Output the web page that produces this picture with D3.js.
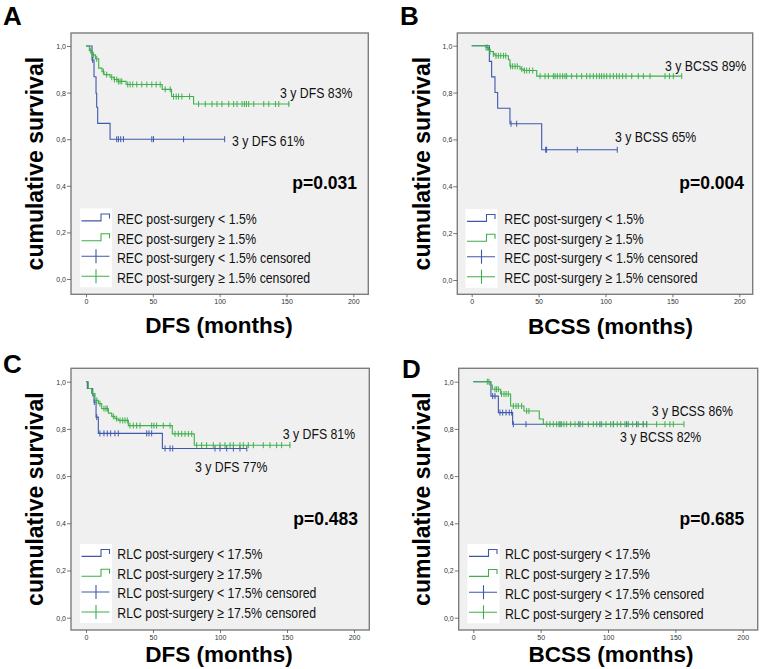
<!DOCTYPE html>
<html><head><meta charset="utf-8">
<script src="https://cdn.jsdelivr.net/npm/d3@7"></script>
<style>body{margin:0;background:#fff}svg{display:block}</style>
</head><body>
<svg id="chart" width="760" height="669"></svg>
<script>
// ---------------- DATA ----------------
const panelLetters = ["A", "B", "C", "D"];
const xTickValues = [0, 50, 100, 150, 200];
const yTickValues = [0, 0.2, 0.4, 0.6, 0.8, 1.0];
const yTickLabels = ["0,0", "0,2", "0,4", "0,6", "0,8", "1,0"];
const xTitles = ["DFS (months)", "BCSS (months)", "DFS (months)", "BCSS (months)"];
const yTitle = "cumulative survival";
const pValues = ["p=0.031", "p=0.004", "p=0.483", "p=0.685"];
const blueLabels = ["3 y DFS 61%", "3 y BCSS 65%", "3 y DFS 77%", "3 y BCSS 82%"];
const greenLabels = ["3 y DFS 83%", "3 y BCSS 89%", "3 y DFS 81%", "3 y BCSS 86%"];
const legendREC = ["REC post-surgery < 1.5%", "REC post-surgery \u2265 1.5%", "REC post-surgery < 1.5% censored", "REC post-surgery \u2265 1.5% censored"];
const legendRLC = ["RLC post-surgery < 17.5%", "RLC post-surgery \u2265 17.5%", "RLC post-surgery < 17.5% censored", "RLC post-surgery \u2265 17.5% censored"];

// Panel A  (steps: [time, survival after step])
const aBlueSteps = [[0,1],[4.5,0.94],[6,0.868],[7.5,0.797],[8,0.737],[8.75,0.668],[18,0.6]];
const aBlueEnd = 104;
const aBlueCensor = [5, 23, 24.25, 26, 28, 49.25, 50.5, 73, 103.75];
const aGreenSteps = [[0,1],[2.5,0.98],[4.5,0.962],[7,0.945],[9.5,0.905],[12,0.89],[13.5,0.877],[18,0.866],[21,0.856],[24,0.848],[30,0.835],[57,0.814],[64,0.783],[80.5,0.751]];
const aGreenEnd = 152.5;
const aGreenCensor = [3.5,5.5,8,13,15.5,19.25,21.25,23,24.25,25.5,26.75,31.25,33,35,38,41.75,45.5,49.25,52.5,55.5,59.25,63,65.5,67.5,69.25,71.75,77.5,84.25,89.25,94.25,98,101.75,106.75,110.5,113,116.75,118.5,120,121.75,125.5,133,136.75,141.75,144.25,151.75];

// Panel B
const bBlueSteps = [[0,1],[13.2,0.933],[14.9,0.867],[17.4,0.8],[19.4,0.733],[28.6,0.667],[52.3,0.556]];
const bBlueEnd = 108.8;
const bBlueCensor = [29.4, 33.6, 55.3, 56, 78.9, 108.8];
const bGreenSteps = [[0,1],[10.7,0.992],[12.5,0.982],[13.7,0.975],[16.2,0.965],[17.4,0.957],[27.4,0.94],[28.6,0.912],[36.1,0.9],[38.6,0.894],[48.6,0.87]];
const bGreenEnd = 157;
const bGreenCensor = [10.7,11.7,13.7,16.2,18.2,19.9,21.7,23.7,25.4,29.1,30.6,32.4,34.1,37.4,39.4,41.1,43.1,45.6,51.1,54.8,57.3,61,62.3,64,66,68,69.7,71,74.7,78.5,82.2,85.9,88.4,90.9,93.4,95.4,97.1,98.9,100.9,103.4,105.9,108.3,110.3,112.8,115.3,119.6,124.5,128.3,133.3,144.5,147.8,150.7,157];

// Panel C
const cBlueSteps = [[0,1],[1,0.971],[5,0.943],[6,0.914],[7.5,0.85],[9.2,0.781],[57,0.717]];
const cBlueEnd = 120;
const cBlueCensor = [6.2,8,10.4,13.4,15.9,18.4,21.6,24.1,45.3,47,49,59,62.7,64.7,96.3,100,105,110,114.9,120];
const cGreenSteps = [[0,1],[1.74,0.971],[4.2,0.95],[6.7,0.921],[9.2,0.907],[11.7,0.886],[16.7,0.867],[19.2,0.853],[21.6,0.843],[24.1,0.836],[31.6,0.814],[64.4,0.779],[80.8,0.731]];
const cGreenEnd = 152.7;
const cGreenCensor = [5,8,10.4,13.4,14.9,15.9,20.4,22.9,25.4,27.4,29.1,30.8,32.8,35.3,37.8,40.3,49,50.7,52.7,57.7,62.7,66.4,68.9,71.4,73.9,76.4,78.9,82.6,86.3,90,95,100,103.7,107.5,110,114.9,117.4,121.1,124.9,132.3,137.3,142.3,146,152.2];

// Panel D
const dBlueSteps = [[0,1],[13.1,0.939],[18.6,0.869],[29.2,0.82]];
const dBlueEnd = 128.7;
const dBlueCensor = [14.4,16.1,19.8,21.8,24.3,26.7,28.5,29.7,39.1,64.4,79.2,94,104,113.9,121.3,126.2,128.7];
const dGreenSteps = [[0,1],[12.4,0.986],[14.1,0.968],[20.3,0.948],[27.7,0.897],[37.6,0.876],[49,0.842],[52,0.82]];
const dGreenEnd = 156.4;
const dGreenCensor = [10.4,11.6,16.1,17.3,18.6,21,22.8,24.3,26,29.7,31.7,33.4,35.9,39.6,41.3,54.5,56.9,59.4,61.9,63.6,65.6,67.3,69.3,72.3,75.5,78,81.2,85.4,89.1,91.6,95.3,98.5,102,104,106.9,109.4,112.6,115.1,118.3,122.5,126.2,128.7,136.1,142.3,146,148.5,156.4];

const panelData = [
  {blue:{steps:aBlueSteps,end:aBlueEnd,censor:aBlueCensor}, green:{steps:aGreenSteps,end:aGreenEnd,censor:aGreenCensor}, legend:legendREC},
  {blue:{steps:bBlueSteps,end:bBlueEnd,censor:bBlueCensor}, green:{steps:bGreenSteps,end:bGreenEnd,censor:bGreenCensor}, legend:legendREC},
  {blue:{steps:cBlueSteps,end:cBlueEnd,censor:cBlueCensor}, green:{steps:cGreenSteps,end:cGreenEnd,censor:cGreenCensor}, legend:legendRLC},
  {blue:{steps:dBlueSteps,end:dBlueEnd,censor:dBlueCensor}, green:{steps:dGreenSteps,end:dGreenEnd,censor:dGreenCensor}, legend:legendRLC}
];

// ---------------- LAYOUT ----------------
const layout = [
 {frame:[71,33,297.3,261.3], x:[86,353.3], y:[279,46], letter:[3,25], ylab:43.3, xlab:[219,333], blueLab:[232,145.6], greenLab:[280,98.3], p:[357,189], legX:80, legText:117, legRows:[218.5,238.3,257.3,277.3]},
 {frame:[457.3,33,295.4,261.3], x:[471.7,739.3], y:[280,45.7], letter:[400,25], ylab:430, xlab:[610.5,334], blueLab:[615,142.3], greenLab:[665,70.6], p:[744,189], legX:465.5, legText:504.3, legRows:[219,238.8,257.8,277.8]},
 {frame:[71,368.3,298.3,261.7], x:[86,354], y:[617.7,381.7], letter:[3,373], ylab:43.3, xlab:[219,661.7], blueLab:[195,472.3], greenLab:[282.7,438.9], p:[358,524.5], legX:80, legText:117.3, legRows:[554,573.8,593,613]},
 {frame:[458.7,368.3,299,261.7], x:[473.3,742.7], y:[617.7,381.7], letter:[402,378], ylab:430, xlab:[611,661.7], blueLab:[620,442.3], greenLab:[651.7,415.6], p:[744.3,524.5], legX:467.5, legText:505, legRows:[554,574,593.3,613.3]}
];

const BLUE = "#3E58AC", GREEN = "#3DB04A";
const FONT = "Liberation Sans, Arial, Helvetica, sans-serif";
const NARROW = 0.82;

const svg = d3.select("#chart");

function narrowText(g, x, y, str, size, anchor, fill, weight) {
  return g.append("text")
    .attr("transform", `translate(${x},${y}) scale(${NARROW},1)`)
    .attr("font-family", FONT)
    .attr("font-size", size)
    .attr("font-weight", weight || "normal")
    .attr("text-anchor", anchor || "start")
    .attr("fill", fill || "#000")
    .text(str);
}

function valueAt(steps, t) {
  let v = steps[0][1];
  for (const s of steps) { if (s[0] <= t + 1e-9) v = s[1]; }
  return v;
}

panelData.forEach((pd, i) => {
  const L = layout[i];
  const g = svg.append("g");
  const [fx, fy, fw, fh] = L.frame;
  const x = d3.scaleLinear().domain([0, 200]).range(L.x);
  const y = d3.scaleLinear().domain([0, 1]).range(L.y);

  // plot background & frame
  g.append("rect").attr("x", fx).attr("y", fy).attr("width", fw).attr("height", fh)
    .attr("fill", "#F0F0F0").attr("stroke", "#7d7d7d").attr("stroke-width", 1.4);

  // y axis ticks
  const yAxis = d3.axisLeft(y).tickValues(yTickValues).tickSize(4).tickFormat((d, k) => yTickLabels[k]);
  const ya = g.append("g").attr("transform", `translate(${fx},0)`).call(yAxis);
  ya.select(".domain").remove();
  ya.selectAll(".tick line").attr("stroke", "#555").attr("stroke-width", 0.8);
  ya.selectAll(".tick text").attr("font-family", FONT).attr("font-size", 7).attr("fill", "#333").attr("x", -5).attr("dy", "0.35em");

  // x axis ticks
  const xAxis = d3.axisBottom(x).tickValues(xTickValues).tickSize(3).tickFormat(d => d);
  const xa = g.append("g").attr("transform", `translate(0,${fy + fh})`).call(xAxis);
  xa.select(".domain").remove();
  xa.selectAll(".tick line").attr("stroke", "#555").attr("stroke-width", 0.8);
  xa.selectAll(".tick text").attr("font-family", FONT).attr("font-size", 7).attr("fill", "#333").attr("y", 5).attr("dy", "0.71em");

  // curves
  const line = d3.line().x(d => x(d[0])).y(d => y(d[1])).curve(d3.curveStepAfter);
  [["blue", BLUE], ["green", GREEN]].forEach(([key, col]) => {
    const s = pd[key];
    const pts = s.steps.concat([[s.end, s.steps[s.steps.length - 1][1]]]);
    g.append("path").attr("d", line(pts)).attr("fill", "none").attr("stroke", col).attr("stroke-width", 1.1);
    g.append("g").selectAll("line").data(s.censor).join("line")
      .attr("x1", d => x(d)).attr("x2", d => x(d))
      .attr("y1", d => y(valueAt(s.steps, d)) - 3).attr("y2", d => y(valueAt(s.steps, d)) + 3)
      .attr("stroke", col).attr("stroke-width", 1);
  });

  // annotations
  narrowText(g, L.greenLab[0], L.greenLab[1], greenLabels[i], 15, "start", "#111");
  narrowText(g, L.blueLab[0], L.blueLab[1], blueLabels[i], 15, "start", "#111");

  // p-value
  g.append("text").attr("x", L.p[0]).attr("y", L.p[1]).attr("text-anchor", "end")
    .attr("font-family", FONT).attr("font-size", 17.5).attr("font-weight", "bold").text(pValues[i]);

  // legend
  const rows = L.legRows, lx = L.legX;
  g.append("rect").attr("x", lx).attr("y", rows[0] - 10).attr("width", 32)
    .attr("height", rows[3] - rows[0] + 20).attr("fill", "#fff");
  const cols = [BLUE, GREEN, BLUE, GREEN];
  rows.forEach((c, k) => {
    if (k < 2) {
      g.append("path").attr("d", `M${lx + 1.5},${c + 2.4}H${lx + 21}V${c - 4.5}H${lx + 29.5}V${c}`)
        .attr("fill", "none").attr("stroke", cols[k]).attr("stroke-width", 1.1);
    } else {
      g.append("path").attr("d", `M${lx + 1.5},${c - 1}H${lx + 29.5}M${lx + 16},${c - 8}V${c + 6}`)
        .attr("fill", "none").attr("stroke", cols[k]).attr("stroke-width", 1.1);
    }
    narrowText(g, L.legText, c + 5.3, pd.legend[k], 15, "start", "#111");
  });

  // axis titles
  g.append("text").attr("x", L.xlab[0]).attr("y", L.xlab[1]).attr("text-anchor", "middle")
    .attr("font-family", FONT).attr("font-size", 22.5).attr("font-weight", "bold").text(xTitles[i]);
  g.append("text").attr("transform", `translate(${L.ylab},${fy + fh / 2}) rotate(-90)`)
    .attr("text-anchor", "middle").attr("font-family", FONT).attr("font-size", 23)
    .attr("font-weight", "bold").text(yTitle);

  // panel letter
  g.append("text").attr("x", L.letter[0]).attr("y", L.letter[1])
    .attr("font-family", FONT).attr("font-size", 26).attr("font-weight", "bold").text(panelLetters[i]);
});
</script>
</body></html>
